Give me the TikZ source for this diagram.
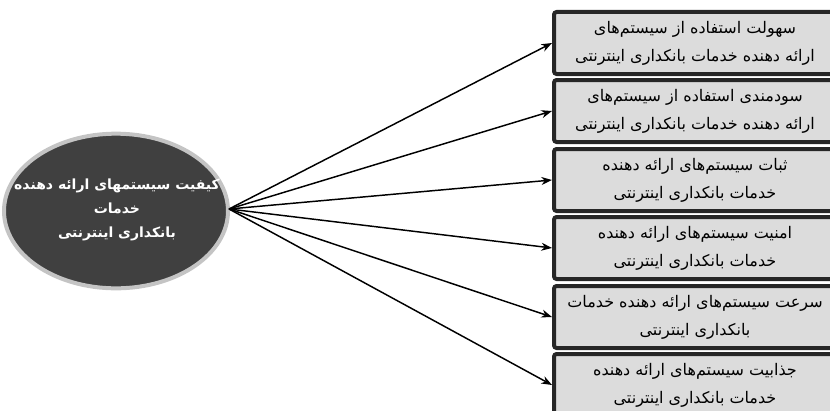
\documentclass[tikz,border=0pt]{standalone}
\usepackage{fontspec}
\newfontfamily\fa[Script=Arabic]{DejaVu Sans}
\TeXXeTstate=1
\usetikzlibrary{arrows.meta,shapes.geometric}
\definecolor{boxfill}{HTML}{DCDCDC}
\definecolor{boxline}{HTML}{262626}
\definecolor{ellfill}{HTML}{404040}
\definecolor{ellline}{HTML}{C4C4C4}
\tikzset{
  catbox/.style={draw=boxline, fill=boxfill, line width=3pt, rounded corners=2pt,
    minimum width=211.5pt, minimum height=46.5pt, inner sep=0pt, align=center,
    font=\fa\fontsize{12}{21}\selectfont},
  mainell/.style={ellipse, draw=ellline, fill=ellfill, line width=3pt,
    minimum width=168pt, minimum height=116pt, inner sep=0pt},
  elltext/.style={align=center, text=white, inner sep=0pt,
    font=\fa\bfseries\fontsize{10.5}{18}\selectfont},
  arr/.style={-{Stealth[length=8pt,width=6pt]}, line width=1.1pt, black}
}
\begin{document}
\begin{tikzpicture}[x=0.75pt,y=-0.75pt]
\useasboundingbox (0,0) rectangle (830,410);
\node[mainell] (e) at (116,211) {};
\node[elltext] (et) at (117,210) {\beginR کیفیت سیستمهای ارائه دهنده\endR\\\beginR خدمات\endR\\\beginR بانکداری اینترنتی\endR};
\node[catbox] (b1) at (695,43) {\beginR سهولت استفاده از سیستم‌های\endR\\\beginR ارائه دهنده خدمات بانکداری اینترنتی\endR};
\node[catbox] (b2) at (695,111) {\beginR سودمندی استفاده از سیستم‌های\endR\\\beginR ارائه دهنده خدمات بانکداری اینترنتی\endR};
\node[catbox] (b3) at (695,180) {\beginR ثبات سیستم‌های ارائه دهنده\endR\\\beginR خدمات بانکداری اینترنتی\endR};
\node[catbox] (b4) at (695,248) {\beginR امنیت سیستم‌های ارائه دهنده\endR\\\beginR خدمات بانکداری اینترنتی\endR};
\node[catbox] (b5) at (695,317) {\beginR سرعت سیستم‌های ارائه دهنده خدمات\endR\\\beginR بانکداری اینترنتی\endR};
\node[catbox] (b6) at (695,385) {\beginR جذابیت سیستم‌های ارائه دهنده\endR\\\beginR خدمات بانکداری اینترنتی\endR};
\coordinate (o) at (229,209);
\foreach \b in {b1,b2,b3,b4,b5,b6}
  \draw[arr] (o) -- (\b.west);
\end{tikzpicture}
\end{document}
